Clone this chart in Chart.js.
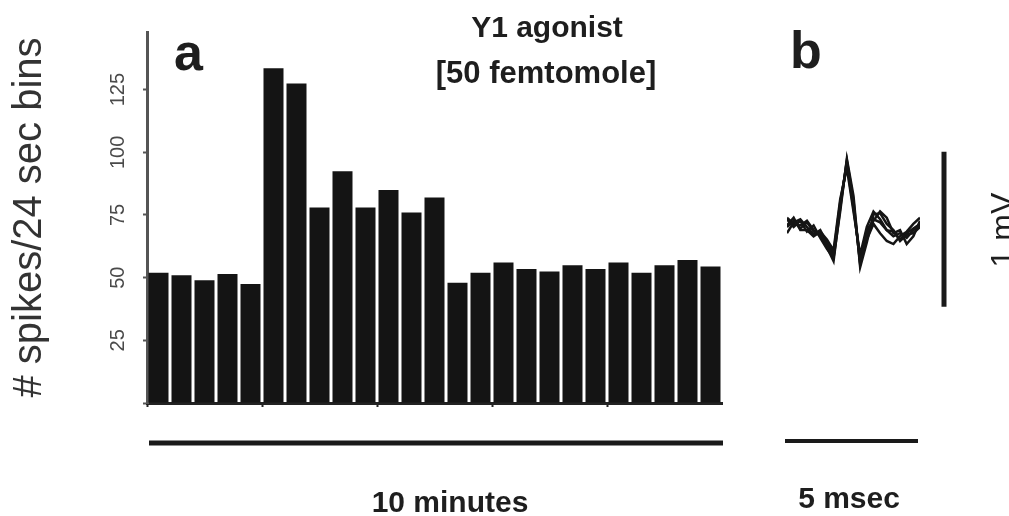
<!DOCTYPE html>
<html>
<head>
<meta charset="utf-8">
<script src="https://cdn.jsdelivr.net/npm/chart.js@4"></script>
<style>
    body { margin: 0; background: #fff; }
    #wrap { position: relative; width: 1009px; height: 516px; overflow: hidden; }
    #rateChart { position: absolute; left: 0; top: 0; }
    #spikeChart { position: absolute; left: 760px; top: 0; }
</style>
</head>
<body>
<div id="wrap">
    <canvas id="rateChart" width="1009" height="516"></canvas>
    <canvas id="spikeChart" width="249" height="516"></canvas>
</div>
<script>
//-----------data: panel a (24 sec bins)-----------
var bins = ['1','2','3','4','5','6','7','8','9','10','11','12','13','14','15','16','17','18','19','20','21','22','23','24','25'];
var spikeCounts = [52, 51, 49, 51.5, 47.5, 133.5, 127.5, 78, 92.5, 78, 85, 76, 82, 48, 52, 56, 53.5, 52.5, 55, 53.5, 56, 52, 55, 57, 54.5];
var yTicks = [0, 25, 50, 75, 100, 125];

//-----------data: panel b (overlaid spike traces, mV)-----------
var traceTimes = [0, 0.25, 0.5, 0.75, 1, 1.25, 1.5, 1.75, 2, 2.25, 2.5, 2.75, 3, 3.25, 3.5, 3.75, 4, 4.25, 4.5, 4.75, 5];
var trace1 = [0, 0.04, -0.01, 0.03, -0.03, -0.04, -0.12, -0.19, 0.14, 0.42, 0.14, -0.23, -0.05, 0.05, 0.03, -0.02, -0.06, -0.04, -0.07, -0.02, 0.01];
var trace2 = [0.05, 0, 0.04, -0.03, 0.01, -0.07, -0.14, -0.2, 0.1, 0.44, 0.2, -0.26, -0.1, 0.08, 0.09, 0.02, -0.02, -0.09, -0.05, -0.04, 0];
var trace3 = [-0.04, 0.03, 0.05, 0, -0.05, -0.02, -0.1, -0.17, 0.16, 0.4, 0.12, -0.2, -0.02, 0.04, 0.1, 0.06, -0.04, -0.02, -0.11, -0.06, 0.04];
var trace4 = [0.06, 0.02, 0.01, 0.04, -0.02, -0.06, -0.13, -0.22, 0.12, 0.43, 0.17, -0.24, -0.08, 0.02, -0.04, -0.09, -0.11, -0.06, -0.03, 0.02, 0.06];
var trace5 = [0.01, 0.06, -0.02, -0.02, -0.06, -0.03, -0.08, -0.15, 0.18, 0.38, 0.1, -0.18, 0, 0.1, 0.05, -0.02, -0.03, -0.08, -0.04, -0.01, 0.02];

var FONT = "'Liberation Sans', Arial, sans-serif";

function xy(values) {
    return traceTimes.map(function (t, i) { return {x: t, y: values[i]}; });
}

//-----------texts and scale bar of panel a-----------
var panelAText = {
    id: 'panelAText',
    afterDraw: function (chart) {
        var ctx = chart.ctx;
        var area = chart.chartArea;
        ctx.save();
        ctx.fillStyle = '#1e1e1e';
        ctx.textBaseline = 'alphabetic';
        ctx.textAlign = 'left';
        ctx.font = 'bold 52px ' + FONT;
        ctx.fillText('a', 174, 70);
        ctx.fillText('b', 790, 68);
        ctx.textAlign = 'center';
        ctx.font = 'bold 30px ' + FONT;
        ctx.fillText('Y1 agonist', 547, 37);
        ctx.font = 'bold 31px ' + FONT;
        ctx.fillText('[50 femtomole]', 546, 83);
        ctx.font = 'bold 30px ' + FONT;
        ctx.fillText('10 minutes', 450, 512);
        // 10 minute bar = whole x range
        ctx.strokeStyle = '#1a1a1a';
        ctx.lineWidth = 5;
        ctx.beginPath();
        ctx.moveTo(area.left + 2, 443);
        ctx.lineTo(area.right + 1, 443);
        ctx.stroke();
        ctx.restore();
    }
};

//-----------scale bars of panel b-----------
var panelBBars = {
    id: 'panelBBars',
    afterDraw: function (chart) {
        var ctx = chart.ctx;
        var xs = chart.scales.x, ys = chart.scales.y;
        ctx.save();
        ctx.strokeStyle = '#1a1a1a';
        ctx.lineWidth = 4;
        ctx.beginPath();
        ctx.moveTo(xs.getPixelForValue(0) - 2, 441);
        ctx.lineTo(xs.getPixelForValue(5) - 2, 441);
        ctx.stroke();
        ctx.lineWidth = 5;
        ctx.beginPath();
        ctx.moveTo(184, ys.getPixelForValue(0.485));
        ctx.lineTo(184, ys.getPixelForValue(-0.515));
        ctx.stroke();
        ctx.fillStyle = '#1e1e1e';
        ctx.textAlign = 'center';
        ctx.font = 'bold 30px ' + FONT;
        ctx.fillText('5 msec', 89, 508);
        ctx.translate(253, ys.getPixelForValue(-0.02));
        ctx.rotate(-Math.PI / 2);
        ctx.font = '32px ' + FONT;
        ctx.fillText('1 mV', 0, 0);
        ctx.restore();
    }
};

function initCharts() {
    //----------------panel a-------------
    var ctxRate = document.getElementById('rateChart');
    new Chart(ctxRate, {
        type: 'bar',
        data: {
            labels: bins,
            datasets: [{
                data: spikeCounts,
                backgroundColor: '#141414',
                borderWidth: 0,
                barPercentage: 0.87,
                categoryPercentage: 1.0
            }]
        },
        options: {
            responsive: false,
            animation: false,
            layout: { padding: { top: 32, right: 287, left: 0, bottom: 0 } },
            plugins: { legend: { display: false }, tooltip: { enabled: false } },
            scales: {
                x: {
                    type: 'category',
                    afterFit: function (s) { s.height = 113; },
                    ticks: { display: false, autoSkip: false },
                    grid: {
                        offset: true,
                        drawOnChartArea: false,
                        tickLength: 4,
                        tickWidth: 2,
                        tickColor: function (c) { return c.index % 5 === 0 ? '#222' : 'rgba(0,0,0,0)'; }
                    },
                    border: { display: true, color: '#222', width: 3 }
                },
                y: {
                    min: 0,
                    max: 148,
                    afterFit: function (s) { s.width = 147; },
                    afterBuildTicks: function (s) {
                        s.ticks = yTicks.map(function (v) { return {value: v}; });
                    },
                    ticks: {
                        minRotation: 90,
                        maxRotation: 90,
                        crossAlign: 'center',
                        padding: 8,
                        color: '#4a4a4a',
                        font: { family: FONT, size: 20 },
                        callback: function (v) { return v === 0 ? '' : v; }
                    },
                    grid: {
                        drawOnChartArea: false,
                        tickLength: 4,
                        tickWidth: 2,
                        tickColor: '#555'
                    },
                    border: { display: true, color: '#555', width: 3 },
                    title: {
                        display: true,
                        text: '# spikes/24 sec bins',
                        color: '#333',
                        font: { family: FONT, size: 40 },
                        padding: { top: 6, bottom: 0 }
                    }
                }
            }
        },
        plugins: [panelAText]
    });

    //----------------panel b-------------
    var ctxSpike = document.getElementById('spikeChart');
    var traces = [trace1, trace2, trace3, trace4, trace5];
    new Chart(ctxSpike, {
        type: 'line',
        data: {
            datasets: traces.map(function (tr) {
                return {
                    data: xy(tr),
                    borderColor: '#151515',
                    borderWidth: 2.5,
                    pointRadius: 0,
                    tension: 0,
                    fill: false
                };
            })
        },
        options: {
            responsive: false,
            animation: false,
            layout: { padding: { top: 72, bottom: 134, left: 27, right: 89 } },
            plugins: { legend: { display: false }, tooltip: { enabled: false } },
            scales: {
                x: { type: 'linear', min: 0, max: 5, display: false },
                y: { type: 'linear', min: -1, max: 1, display: false }
            }
        },
        plugins: [panelBBars]
    });
}

initCharts();
</script>
</body>
</html>
